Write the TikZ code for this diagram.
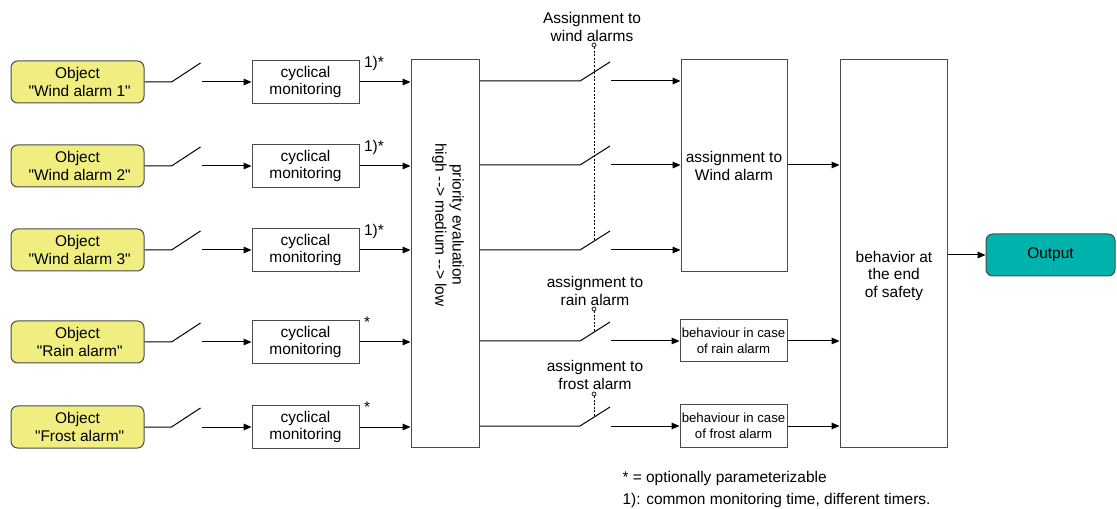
\documentclass[tikz,border=0pt]{standalone}
\usepackage{fontspec}
\setmainfont{Liberation Sans}[Ligatures=TeXOff]
\usetikzlibrary{arrows.meta,positioning}
\definecolor{objfill}{HTML}{F0EE80}
\definecolor{outfill}{HTML}{00B2AC}
\definecolor{frame}{HTML}{4A4A4A}
\tikzset{
  objbox/.style={draw=frame, fill=objfill, rounded corners=5pt, minimum width=99.75pt,
                 minimum height=31.5pt, align=center, inner sep=0pt},
  monbox/.style={draw=frame, minimum width=80.25pt, minimum height=32.25pt, align=center, inner sep=0pt},
  behbox/.style={draw=frame, minimum width=80.25pt, minimum height=31.5pt, align=center, inner sep=0pt,
                 font=\fontsize{9.9}{12.3}\selectfont},
  tallbox/.style={draw=frame, minimum width=51pt, minimum height=290.25pt, inner sep=0pt},
  flow/.style={-{Triangle[length=6pt,width=5pt]}},
  ctrl/.style={dash pattern=on 1.5pt off 1.2pt, line width=0.5pt},
  knob/.style={draw, fill=white, line width=0.5pt},
  tag/.style={align=center, inner sep=0pt}
}

\begin{document}
\begin{tikzpicture}[x=0.75pt, y=-0.75pt, line width=0.75pt,
    font=\fontsize{11.6}{12.9}\selectfont]
  \useasboundingbox (0,0) rectangle (1117,509);

  % priority stage
  \node[tallbox] (prio) at (445,253.5) {};
  \node[rotate=-90, align=center] (priotext) at (448,225)
    {priority evaluation\\high --> medium --> low};

  % inputs
  \foreach \y/\id/\obj/\note in {82/a/Wind alarm 1/1)*, 166/b/Wind alarm 2/1)*,
      250/c/Wind alarm 3/1)*, 342/d/Rain alarm/*, 427/e/Frost alarm/*} {
    \node[objbox] (obj\id) at (77.5,\y) {Object\\\ "\obj"};
    \node[monbox] (mon\id) at (305.5,\y) {cyclical\\monitoring};
    \coordinate (in\id) at (202,\y);
    \draw (obj\id.east) -- ++(27,0) -- ++(29,-19);
    \draw[flow] (in\id) -- (mon\id.west);
    \draw[flow] (mon\id.east) -- (mon\id.east -| prio.west);
    \node[anchor=north west, inner sep=0pt] (note\id) at ([xshift=3pt,yshift=3pt]mon\id.north east) {\note};
  }

  % assignment stage
  \node[draw=frame, minimum width=79.5pt, minimum height=159pt, align=center, inner sep=0pt]
    (assign) at (734,166) {assignment to\\Wind alarm};
  \node[behbox] (rainbeh) at (733.5,341) {behaviour in case\\of rain alarm};
  \node[behbox] (frostbeh) at (733.5,426) {behaviour in case\\of frost alarm};

  \foreach \y/\id in {81/a, 165/b, 250/c} {
    \coordinate (sw\id) at (580,\y);
    \coordinate (to\id) at (611,\y);
    \draw (prio.east |- sw\id) -- (sw\id) -- ++(30,-19);
    \draw[flow] (to\id) -- (to\id -| assign.west);
  }
  \coordinate (swd) at (580,341);
  \coordinate (tod) at (611,341);
  \draw (prio.east |- swd) -- (swd) -- ++(30,-19);
  \draw[flow] (tod) -- (rainbeh.west);
  \coordinate (swe) at (580,426);
  \coordinate (toe) at (611,426);
  \draw (prio.east |- swe) -- (swe) -- ++(30,-19);
  \draw[flow] (toe) -- (frostbeh.west);

  % switch control
  \draw[ctrl] (594,47) -- (594,241);
  \draw[knob] (594,45) circle[radius=2];
  \draw[ctrl] (594,311) -- (594,332);
  \draw[knob] (594,309) circle[radius=2];
  \draw[ctrl] (594,396) -- (594,417);
  \draw[knob] (594,394) circle[radius=2];
  \node[tag] (windtag) at (592,27) {Assignment to\\wind alarms};
  \node[tag] (raintag) at (595,291) {assignment to\\rain alarm};
  \node[tag] (frosttag) at (595,375) {assignment to\\frost alarm};

  % end of safety and output
  \node[draw=frame, minimum width=80.25pt, minimum height=290.25pt, inner sep=0pt]
    (safety) at (893.5,253.5) {};
  \node[align=center] (safetytext) at (894,276) {behavior at\\the end\\of safety};
  \node[draw=frame, fill=outfill, rounded corners=5pt, minimum width=96.75pt,
        minimum height=31.5pt, inner sep=0pt] (out) at (1050.5,255) {Output};

  \draw[flow] (assign.east |- tob) -- (tob -| safety.west);
  \draw[flow] (rainbeh.east) -- (rainbeh.east -| safety.west);
  \draw[flow] (frostbeh.east) -- (frostbeh.east -| safety.west);
  \draw[flow] (safety.east |- out) -- (out.west);

  % footnotes
  \node[anchor=west, inner sep=0pt] (fnstar) at (622,479) {* = optionally parameterizable};
  \node[anchor=west, inner sep=0pt] (fnone) at (622,500) {1): common monitoring time, different timers.};
\end{tikzpicture}
\end{document}
